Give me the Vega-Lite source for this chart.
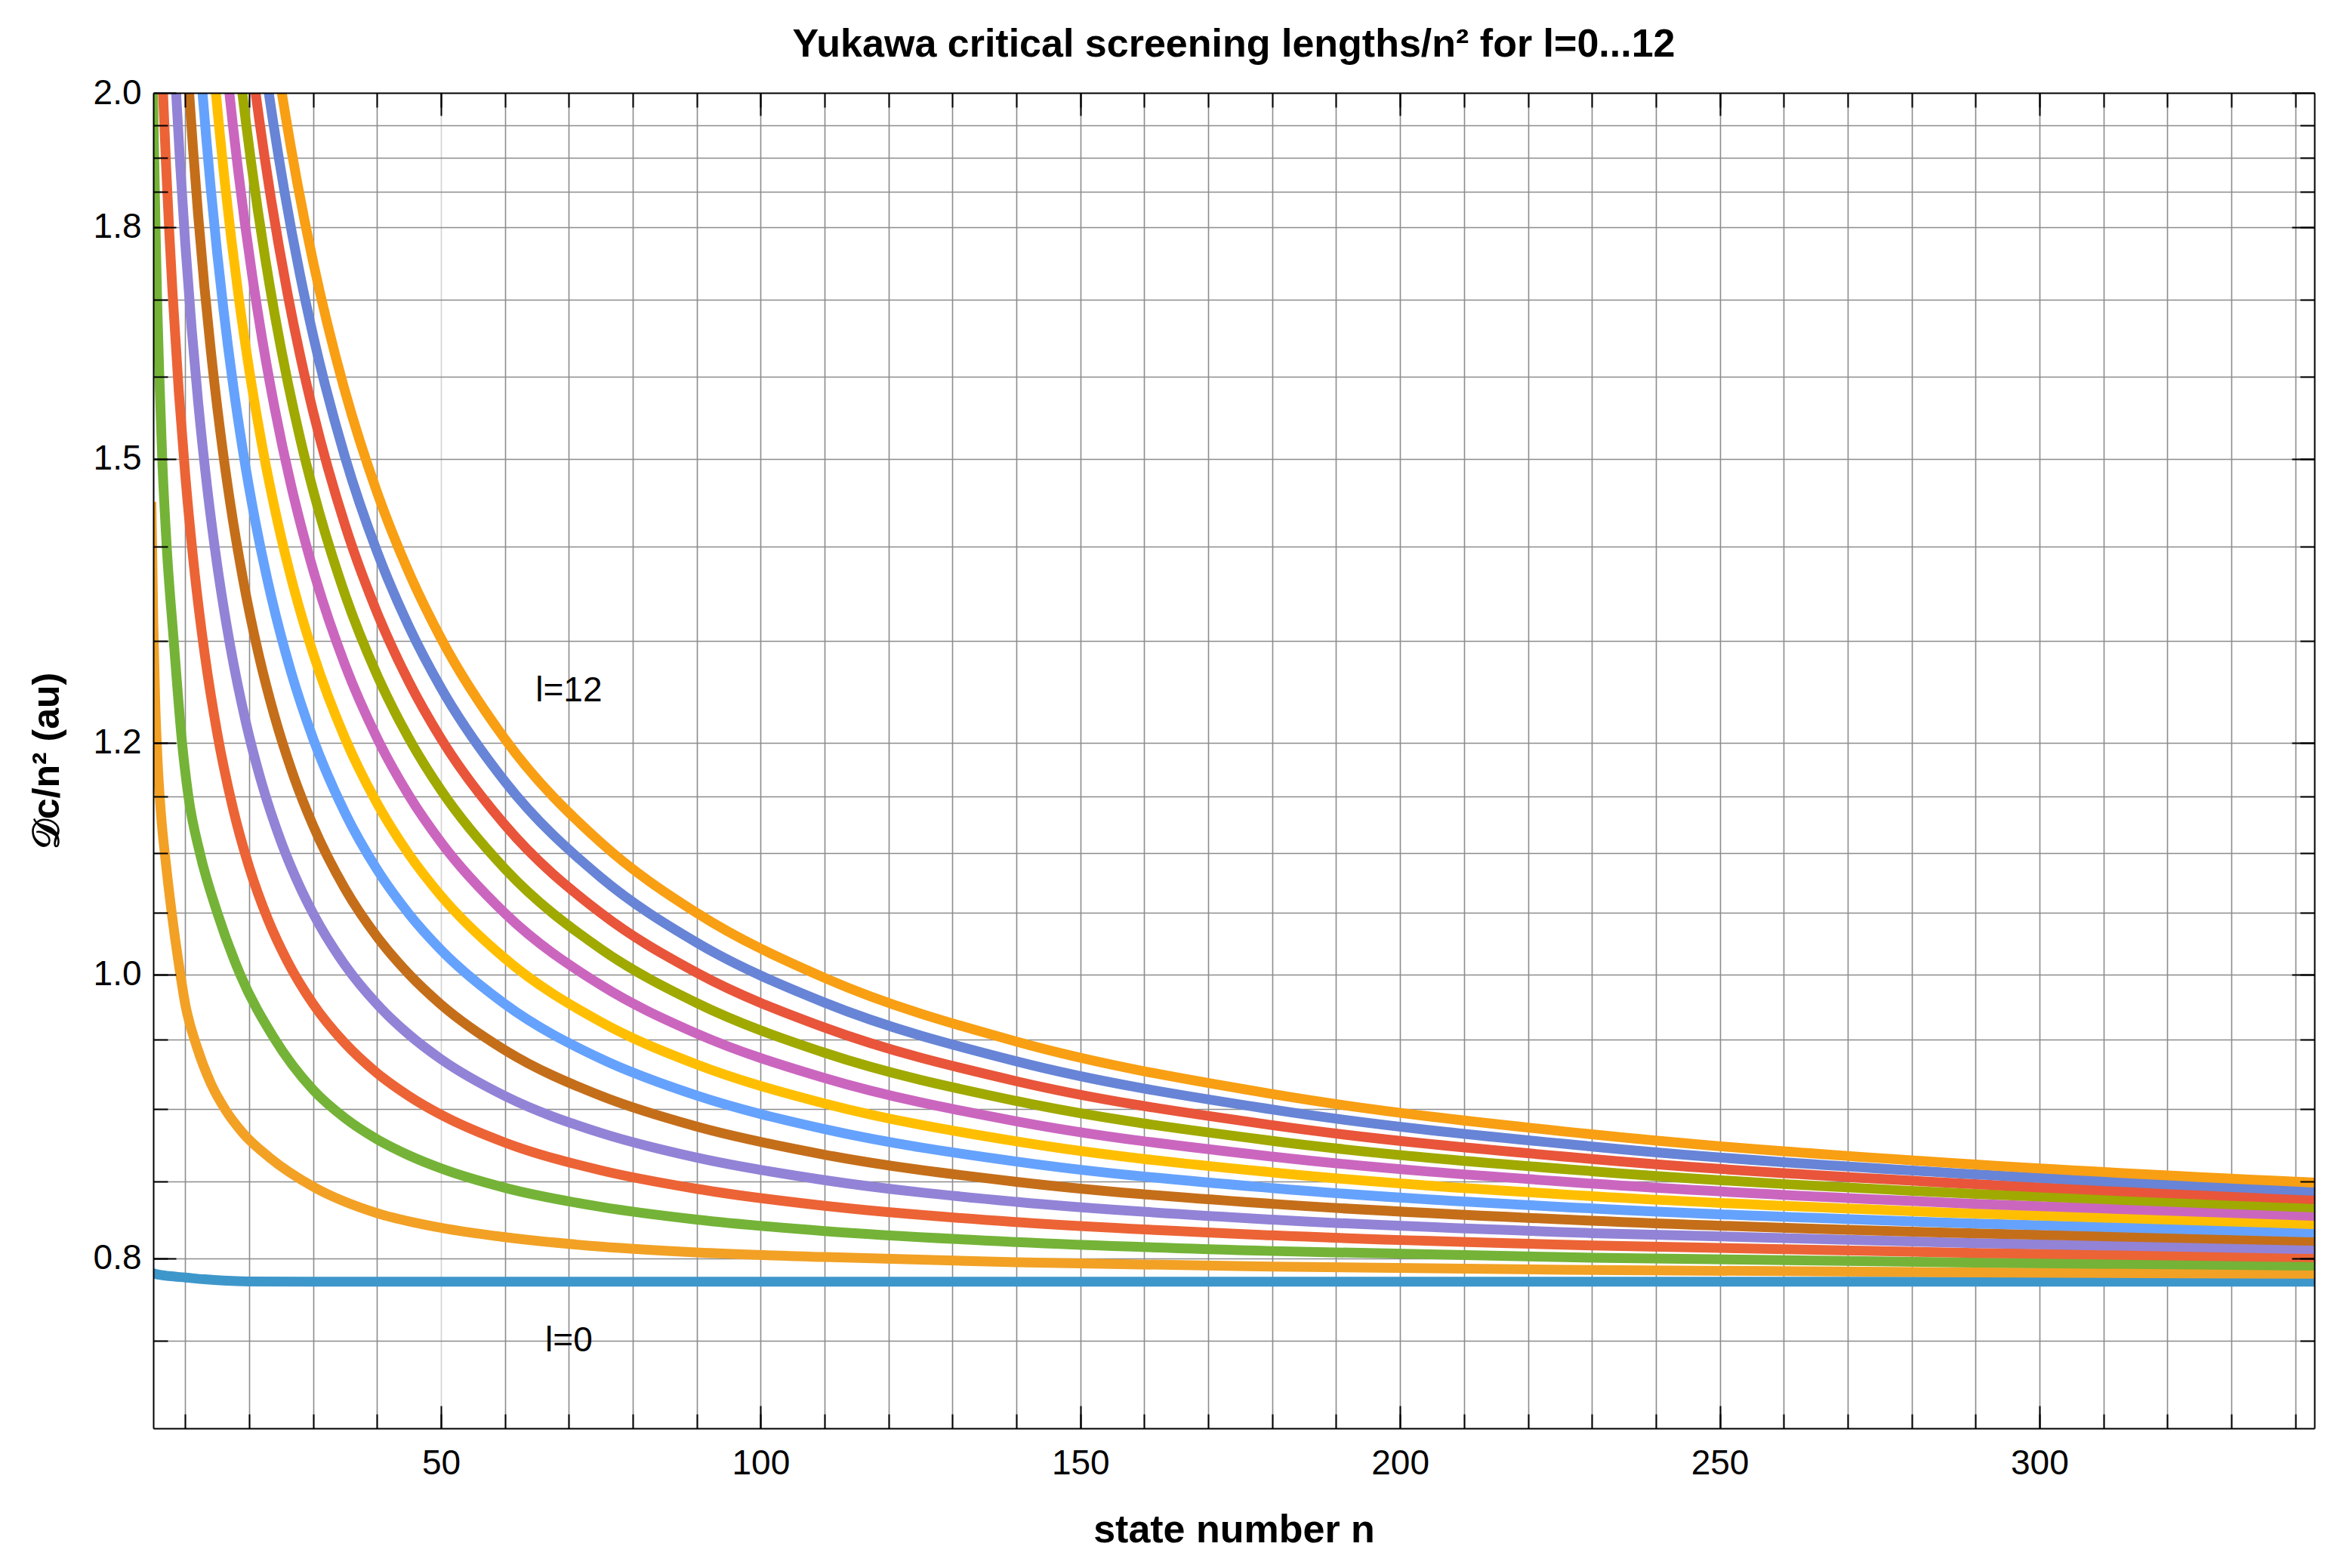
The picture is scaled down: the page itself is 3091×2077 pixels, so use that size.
{
  "$schema": "https://vega.github.io/schema/vega-lite/v6.json",
  "width": 2862,
  "height": 1769,
  "autosize": {"type": "none"},
  "padding": {"left": 203, "top": 123, "right": 26, "bottom": 185},
  "background": "white",
  "config": {"view": {"stroke": null}, "font": "Liberation Sans"},
  "title": {
    "text": "Yukawa critical screening lengths/n² for l=0...12",
    "font": "Liberation Sans",
    "fontSize": 52,
    "fontWeight": "bold",
    "color": "black",
    "anchor": "middle",
    "baseline": "alphabetic",
    "offset": -27
  },
  "datasets": {
    "labels": [
      {"n": 70, "v": 1.25, "label": "l=12"},
      {"n": 70, "v": 0.75, "label": "l=0"}
    ],
    "curves": [
      {"l": 0, "n": 4.7, "v": 0.792}, {"l": 0, "n": 5, "v": 0.7908}, {"l": 0, "n": 6, "v": 0.7898}, {"l": 0, "n": 7.5, "v": 0.789}, {"l": 0, "n": 10, "v": 0.7881}, {"l": 0, "n": 13, "v": 0.787}, {"l": 0, "n": 16, "v": 0.7862}, {"l": 0, "n": 20, "v": 0.7857}, {"l": 0, "n": 30, "v": 0.7855}, {"l": 0, "n": 100, "v": 0.7855}, {"l": 0, "n": 343, "v": 0.7855},

      {"l": 1, "n": 4.7, "v": 1.45}, {"l": 1, "n": 5, "v": 1.32}, {"l": 1, "n": 5.3, "v": 1.24}, {"l": 1, "n": 5.7, "v": 1.18}, {"l": 1, "n": 6.2, "v": 1.135}, {"l": 1, "n": 7, "v": 1.09}, {"l": 1, "n": 8, "v": 1.045}, {"l": 1, "n": 9, "v": 1.008}, {"l": 1, "n": 10, "v": 0.977}, {"l": 1, "n": 11.8, "v": 0.945}, {"l": 1, "n": 14, "v": 0.918}, {"l": 1, "n": 16.3, "v": 0.899}, {"l": 1, "n": 19, "v": 0.883}, {"l": 1, "n": 23.2, "v": 0.866}, {"l": 1, "n": 30, "v": 0.8465}, {"l": 1, "n": 40, "v": 0.829}, {"l": 1, "n": 50, "v": 0.8195}, {"l": 1, "n": 60, "v": 0.8135}, {"l": 1, "n": 75, "v": 0.8075}, {"l": 1, "n": 90, "v": 0.8038}, {"l": 1, "n": 110, "v": 0.8009}, {"l": 1, "n": 140, "v": 0.7976}, {"l": 1, "n": 180, "v": 0.7949}, {"l": 1, "n": 230, "v": 0.7928}, {"l": 1, "n": 290, "v": 0.7913}, {"l": 1, "n": 343, "v": 0.7904},

      {"l": 2, "n": 4.8, "v": 2.1}, {"l": 2, "n": 4.98, "v": 1.99}, {"l": 2, "n": 5.15, "v": 1.9}, {"l": 2, "n": 5.35, "v": 1.8}, {"l": 2, "n": 5.6, "v": 1.7}, {"l": 2, "n": 5.95, "v": 1.6}, {"l": 2, "n": 6.4, "v": 1.5}, {"l": 2, "n": 7.1, "v": 1.4}, {"l": 2, "n": 8.2, "v": 1.3}, {"l": 2, "n": 9.5, "v": 1.2}, {"l": 2, "n": 10.5, "v": 1.15}, {"l": 2, "n": 12.3, "v": 1.1}, {"l": 2, "n": 15, "v": 1.05}, {"l": 2, "n": 18.6, "v": 1.0}, {"l": 2, "n": 23.8, "v": 0.952}, {"l": 2, "n": 30, "v": 0.9134}, {"l": 2, "n": 35, "v": 0.8933}, {"l": 2, "n": 40, "v": 0.8786}, {"l": 2, "n": 45, "v": 0.8675}, {"l": 2, "n": 50, "v": 0.8587}, {"l": 2, "n": 60, "v": 0.8457}, {"l": 2, "n": 75, "v": 0.8331}, {"l": 2, "n": 90, "v": 0.8248}, {"l": 2, "n": 110, "v": 0.8174}, {"l": 2, "n": 140, "v": 0.8104}, {"l": 2, "n": 180, "v": 0.8047}, {"l": 2, "n": 230, "v": 0.8005}, {"l": 2, "n": 290, "v": 0.7974}, {"l": 2, "n": 343, "v": 0.7955},

      {"l": 3, "n": 6.1, "v": 2.1146}, {"l": 3, "n": 6.5, "v": 2.0048}, {"l": 3, "n": 7, "v": 1.8894}, {"l": 3, "n": 7.5, "v": 1.7929}, {"l": 3, "n": 8, "v": 1.7111}, {"l": 3, "n": 9, "v": 1.5804}, {"l": 3, "n": 10, "v": 1.4809}, {"l": 3, "n": 11.5, "v": 1.3697}, {"l": 3, "n": 13, "v": 1.2884}, {"l": 3, "n": 15, "v": 1.209}, {"l": 3, "n": 17.5, "v": 1.1387}, {"l": 3, "n": 20, "v": 1.0881}, {"l": 3, "n": 23, "v": 1.0435}, {"l": 3, "n": 26, "v": 1.0103}, {"l": 3, "n": 30, "v": 0.9772}, {"l": 3, "n": 35, "v": 0.9474}, {"l": 3, "n": 40, "v": 0.9255}, {"l": 3, "n": 45, "v": 0.9089}, {"l": 3, "n": 50, "v": 0.8957}, {"l": 3, "n": 60, "v": 0.8763}, {"l": 3, "n": 75, "v": 0.8574}, {"l": 3, "n": 90, "v": 0.845}, {"l": 3, "n": 110, "v": 0.8338}, {"l": 3, "n": 140, "v": 0.8232}, {"l": 3, "n": 180, "v": 0.8147}, {"l": 3, "n": 230, "v": 0.8082}, {"l": 3, "n": 290, "v": 0.8035}, {"l": 3, "n": 343, "v": 0.8007},

      {"l": 4, "n": 8.2, "v": 2.0745}, {"l": 4, "n": 8.6, "v": 1.9948}, {"l": 4, "n": 9.2, "v": 1.8912}, {"l": 4, "n": 10, "v": 1.7766}, {"l": 4, "n": 11, "v": 1.6617}, {"l": 4, "n": 12, "v": 1.5698}, {"l": 4, "n": 13.5, "v": 1.462}, {"l": 4, "n": 15, "v": 1.3796}, {"l": 4, "n": 17, "v": 1.2959}, {"l": 4, "n": 19.5, "v": 1.2188}, {"l": 4, "n": 22, "v": 1.1616}, {"l": 4, "n": 25, "v": 1.1099}, {"l": 4, "n": 28, "v": 1.0706}, {"l": 4, "n": 30, "v": 1.0492}, {"l": 4, "n": 35, "v": 1.0074}, {"l": 4, "n": 40, "v": 0.977}, {"l": 4, "n": 45, "v": 0.9539}, {"l": 4, "n": 50, "v": 0.9357}, {"l": 4, "n": 60, "v": 0.909}, {"l": 4, "n": 75, "v": 0.883}, {"l": 4, "n": 90, "v": 0.866}, {"l": 4, "n": 110, "v": 0.8508}, {"l": 4, "n": 140, "v": 0.8364}, {"l": 4, "n": 180, "v": 0.8248}, {"l": 4, "n": 230, "v": 0.8161}, {"l": 4, "n": 290, "v": 0.8097}, {"l": 4, "n": 343, "v": 0.8059},

      {"l": 5, "n": 10.2, "v": 2.0653}, {"l": 5, "n": 10.6, "v": 2.0014}, {"l": 5, "n": 11.2, "v": 1.9161}, {"l": 5, "n": 12, "v": 1.8186}, {"l": 5, "n": 13, "v": 1.717}, {"l": 5, "n": 14, "v": 1.633}, {"l": 5, "n": 15.5, "v": 1.531}, {"l": 5, "n": 17, "v": 1.4502}, {"l": 5, "n": 19, "v": 1.3657}, {"l": 5, "n": 21.5, "v": 1.2855}, {"l": 5, "n": 24, "v": 1.2244}, {"l": 5, "n": 27, "v": 1.168}, {"l": 5, "n": 30, "v": 1.1242}, {"l": 5, "n": 35, "v": 1.0697}, {"l": 5, "n": 40, "v": 1.0302}, {"l": 5, "n": 45, "v": 1.0003}, {"l": 5, "n": 50, "v": 0.9768}, {"l": 5, "n": 60, "v": 0.9424}, {"l": 5, "n": 75, "v": 0.9091}, {"l": 5, "n": 90, "v": 0.8874}, {"l": 5, "n": 110, "v": 0.868}, {"l": 5, "n": 140, "v": 0.8497}, {"l": 5, "n": 180, "v": 0.8351}, {"l": 5, "n": 230, "v": 0.8241}, {"l": 5, "n": 290, "v": 0.8159}, {"l": 5, "n": 343, "v": 0.8112},

      {"l": 6, "n": 12.3, "v": 2.0527}, {"l": 6, "n": 12.7, "v": 2.0}, {"l": 6, "n": 13.3, "v": 1.9283}, {"l": 6, "n": 14, "v": 1.8542}, {"l": 6, "n": 15, "v": 1.7628}, {"l": 6, "n": 16, "v": 1.6853}, {"l": 6, "n": 17.5, "v": 1.5888}, {"l": 6, "n": 19, "v": 1.5103}, {"l": 6, "n": 21, "v": 1.4262}, {"l": 6, "n": 23.5, "v": 1.3444}, {"l": 6, "n": 26.5, "v": 1.2696}, {"l": 6, "n": 30, "v": 1.2038}, {"l": 6, "n": 35, "v": 1.1355}, {"l": 6, "n": 40, "v": 1.0861}, {"l": 6, "n": 45, "v": 1.0488}, {"l": 6, "n": 50, "v": 1.0196}, {"l": 6, "n": 60, "v": 0.9771}, {"l": 6, "n": 75, "v": 0.936}, {"l": 6, "n": 90, "v": 0.9093}, {"l": 6, "n": 110, "v": 0.8856}, {"l": 6, "n": 140, "v": 0.8633}, {"l": 6, "n": 180, "v": 0.8455}, {"l": 6, "n": 230, "v": 0.8321}, {"l": 6, "n": 290, "v": 0.8223}, {"l": 6, "n": 343, "v": 0.8165},

      {"l": 7, "n": 14.4, "v": 2.0437}, {"l": 7, "n": 14.8, "v": 1.999}, {"l": 7, "n": 15.4, "v": 1.9372}, {"l": 7, "n": 16.2, "v": 1.8635}, {"l": 7, "n": 17.2, "v": 1.7831}, {"l": 7, "n": 18.4, "v": 1.7005}, {"l": 7, "n": 20, "v": 1.6089}, {"l": 7, "n": 22, "v": 1.5165}, {"l": 7, "n": 24.5, "v": 1.4258}, {"l": 7, "n": 27, "v": 1.3546}, {"l": 7, "n": 30, "v": 1.2872}, {"l": 7, "n": 35, "v": 1.204}, {"l": 7, "n": 40, "v": 1.1441}, {"l": 7, "n": 45, "v": 1.099}, {"l": 7, "n": 50, "v": 1.0639}, {"l": 7, "n": 60, "v": 1.0128}, {"l": 7, "n": 75, "v": 0.9635}, {"l": 7, "n": 90, "v": 0.9318}, {"l": 7, "n": 110, "v": 0.9036}, {"l": 7, "n": 140, "v": 0.8771}, {"l": 7, "n": 180, "v": 0.856}, {"l": 7, "n": 230, "v": 0.8402}, {"l": 7, "n": 290, "v": 0.8287}, {"l": 7, "n": 343, "v": 0.8219},

      {"l": 8, "n": 16.5, "v": 2.0388}, {"l": 8, "n": 16.9, "v": 1.9997}, {"l": 8, "n": 17.5, "v": 1.9453}, {"l": 8, "n": 18.3, "v": 1.8796}, {"l": 8, "n": 19.3, "v": 1.8067}, {"l": 8, "n": 20.5, "v": 1.7307}, {"l": 8, "n": 22, "v": 1.6496}, {"l": 8, "n": 24, "v": 1.5602}, {"l": 8, "n": 26.5, "v": 1.4707}, {"l": 8, "n": 28, "v": 1.4261}, {"l": 8, "n": 30, "v": 1.3746}, {"l": 8, "n": 35, "v": 1.2755}, {"l": 8, "n": 40, "v": 1.2044}, {"l": 8, "n": 45, "v": 1.151}, {"l": 8, "n": 50, "v": 1.1096}, {"l": 8, "n": 60, "v": 1.0494}, {"l": 8, "n": 75, "v": 0.9918}, {"l": 8, "n": 90, "v": 0.9547}, {"l": 8, "n": 110, "v": 0.9219}, {"l": 8, "n": 140, "v": 0.8911}, {"l": 8, "n": 180, "v": 0.8667}, {"l": 8, "n": 230, "v": 0.8485}, {"l": 8, "n": 290, "v": 0.8351}, {"l": 8, "n": 343, "v": 0.8273},

      {"l": 9, "n": 18.5, "v": 2.0366}, {"l": 9, "n": 18.9, "v": 2.0019}, {"l": 9, "n": 19.5, "v": 1.9531}, {"l": 9, "n": 20.3, "v": 1.8936}, {"l": 9, "n": 21.3, "v": 1.8269}, {"l": 9, "n": 22.5, "v": 1.7562}, {"l": 9, "n": 24, "v": 1.6798}, {"l": 9, "n": 26, "v": 1.5943}, {"l": 9, "n": 28, "v": 1.5232}, {"l": 9, "n": 30, "v": 1.4633}, {"l": 9, "n": 35, "v": 1.348}, {"l": 9, "n": 40, "v": 1.2656}, {"l": 9, "n": 45, "v": 1.2038}, {"l": 9, "n": 50, "v": 1.156}, {"l": 9, "n": 60, "v": 1.0867}, {"l": 9, "n": 75, "v": 1.0204}, {"l": 9, "n": 90, "v": 0.9779}, {"l": 9, "n": 110, "v": 0.9404}, {"l": 9, "n": 140, "v": 0.9054}, {"l": 9, "n": 180, "v": 0.8775}, {"l": 9, "n": 230, "v": 0.8568}, {"l": 9, "n": 290, "v": 0.8416}, {"l": 9, "n": 343, "v": 0.8327},

      {"l": 10, "n": 20.6, "v": 2.031}, {"l": 10, "n": 21, "v": 2.0}, {"l": 10, "n": 21.6, "v": 1.9561}, {"l": 10, "n": 22.4, "v": 1.902}, {"l": 10, "n": 23.4, "v": 1.8407}, {"l": 10, "n": 24.6, "v": 1.7752}, {"l": 10, "n": 26, "v": 1.7079}, {"l": 10, "n": 28, "v": 1.6257}, {"l": 10, "n": 30, "v": 1.5565}, {"l": 10, "n": 35, "v": 1.4237}, {"l": 10, "n": 40, "v": 1.3291}, {"l": 10, "n": 45, "v": 1.2585}, {"l": 10, "n": 50, "v": 1.2038}, {"l": 10, "n": 60, "v": 1.1248}, {"l": 10, "n": 75, "v": 1.0496}, {"l": 10, "n": 90, "v": 1.0015}, {"l": 10, "n": 110, "v": 0.9592}, {"l": 10, "n": 140, "v": 0.9196}, {"l": 10, "n": 180, "v": 0.8884}, {"l": 10, "n": 230, "v": 0.8651}, {"l": 10, "n": 290, "v": 0.8481}, {"l": 10, "n": 343, "v": 0.8382},

      {"l": 11, "n": 22.6, "v": 2.0325}, {"l": 11, "n": 23.1, "v": 1.9973}, {"l": 11, "n": 23.7, "v": 1.9574}, {"l": 11, "n": 24.5, "v": 1.908}, {"l": 11, "n": 25.5, "v": 1.8515}, {"l": 11, "n": 26.7, "v": 1.7904}, {"l": 11, "n": 28, "v": 1.7315}, {"l": 11, "n": 30, "v": 1.6526}, {"l": 11, "n": 35, "v": 1.5017}, {"l": 11, "n": 40, "v": 1.3944}, {"l": 11, "n": 45, "v": 1.3145}, {"l": 11, "n": 50, "v": 1.2528}, {"l": 11, "n": 60, "v": 1.1639}, {"l": 11, "n": 75, "v": 1.0794}, {"l": 11, "n": 90, "v": 1.0255}, {"l": 11, "n": 110, "v": 0.9782}, {"l": 11, "n": 140, "v": 0.9341}, {"l": 11, "n": 180, "v": 0.8994}, {"l": 11, "n": 230, "v": 0.8736}, {"l": 11, "n": 290, "v": 0.8547}, {"l": 11, "n": 343, "v": 0.8437},

      {"l": 12, "n": 24.7, "v": 2.0259}, {"l": 12, "n": 25.1, "v": 2.0001}, {"l": 12, "n": 25.7, "v": 1.9633}, {"l": 12, "n": 26.5, "v": 1.9174}, {"l": 12, "n": 27.5, "v": 1.8646}, {"l": 12, "n": 28.7, "v": 1.8071}, {"l": 12, "n": 30, "v": 1.7511}, {"l": 12, "n": 35, "v": 1.5813}, {"l": 12, "n": 40, "v": 1.461}, {"l": 12, "n": 45, "v": 1.3715}, {"l": 12, "n": 50, "v": 1.3025}, {"l": 12, "n": 60, "v": 1.2034}, {"l": 12, "n": 75, "v": 1.1094}, {"l": 12, "n": 90, "v": 1.0497}, {"l": 12, "n": 110, "v": 0.9974}, {"l": 12, "n": 140, "v": 0.9487}, {"l": 12, "n": 180, "v": 0.9104}, {"l": 12, "n": 230, "v": 0.882}, {"l": 12, "n": 290, "v": 0.8613}, {"l": 12, "n": 343, "v": 0.8492}
    ]
  },
  "layer": [
    {
      "data": {"name": "labels"},
      "mark": {"type": "point", "opacity": 0},
      "encoding": {
        "x": {
          "field": "n", "type": "quantitative",
          "scale": {"domain": [5, 343], "nice": false, "zero": false},
          "axis": {
            "orient": "bottom",
            "values": [10, 20, 30, 40, 50, 60, 70, 80, 90, 100, 110, 120, 130, 140, 150, 160, 170, 180, 190, 200, 210, 220, 230, 240, 250, 260, 270, 280, 290, 300, 310, 320, 330, 340],
            "labels": false, "domain": false, "ticks": false, "title": null,
            "grid": true, "gridWidth": 1.6,
            "gridColor": {"condition": {"test": "datum.value === 50", "value": "#d2d2d2"}, "value": "#8c8c8c"}
          }
        },
        "y": {
          "field": "v", "type": "quantitative",
          "scale": {"type": "log", "domain": [0.7, 2.0], "nice": false},
          "axis": {
            "orient": "left",
            "values": [0.75, 0.8, 0.85, 0.9, 0.95, 1.0, 1.05, 1.1, 1.15, 1.2, 1.3, 1.4, 1.5, 1.6, 1.7, 1.8, 1.85, 1.9, 1.95],
            "labels": false, "domain": false, "ticks": false, "title": null,
            "grid": true, "gridWidth": 1.6, "gridColor": "#8c8c8c"
          }
        }
      }
    },
    {
      "data": {"name": "curves"},
      "mark": {"type": "line", "strokeWidth": 13, "interpolate": "monotone", "clip": true},
      "encoding": {
        "x": {
          "field": "n", "type": "quantitative",
          "scale": {"domain": [5, 343], "nice": false, "zero": false},
          "axis": {
            "orient": "bottom", "values": [50, 100, 150, 200, 250, 300], "format": "d",
            "labelFont": "Liberation Sans", "labelFontSize": 46, "labelColor": "black", "labelPadding": 24,
            "labelOverlap": false, "labelFlush": false,
            "ticks": false, "grid": false,
            "domain": true, "domainColor": "black", "domainWidth": 2,
            "title": "state number n", "titleFont": "Liberation Sans", "titleFontSize": 52,
            "titleFontWeight": "bold", "titleColor": "black", "titlePadding": 40, "zindex": 1
          }
        },
        "y": {
          "field": "v", "type": "quantitative",
          "scale": {"type": "log", "domain": [0.7, 2.0], "nice": false},
          "axis": {
            "orient": "left", "values": [0.8, 1.0, 1.2, 1.5, 1.8, 2.0], "format": ".1f",
            "labelFont": "Liberation Sans", "labelFontSize": 46, "labelColor": "black", "labelPadding": 16,
            "labelOverlap": false, "labelFlush": false,
            "ticks": false, "grid": false,
            "domain": true, "domainColor": "black", "domainWidth": 2,
            "title": "𝒟c/n² (au)", "titleFont": "Liberation Sans", "titleFontSize": 50,
            "titleFontWeight": "bold", "titleColor": "black", "titlePadding": 36, "zindex": 1
          }
        },
        "color": {
          "field": "l", "type": "ordinal", "legend": null,
          "scale": {
            "domain": [0, 1, 2, 3, 4, 5, 6, 7, 8, 9, 10, 11, 12],
            "range": ["#3e97cb", "#f2a125", "#74b337", "#ec6336", "#9283d7", "#c46e1a", "#65a2fd", "#ffbf00", "#cb66bf", "#a0a900", "#e8553a", "#6784d6", "#f89f13"]
          }
        }
      }
    },
    {
      "data": {"name": "labels"},
      "mark": {"type": "text", "font": "Liberation Sans", "fontSize": 46, "color": "black", "align": "center", "baseline": "middle"},
      "encoding": {
        "text": {"field": "label"},
        "x": {
          "field": "n", "type": "quantitative",
          "scale": {"domain": [5, 343], "nice": false, "zero": false},
          "axis": {
            "orient": "bottom",
            "values": [10, 20, 30, 40, 50, 60, 70, 80, 90, 100, 110, 120, 130, 140, 150, 160, 170, 180, 190, 200, 210, 220, 230, 240, 250, 260, 270, 280, 290, 300, 310, 320, 330, 340],
            "labels": false, "domain": false, "grid": false, "title": null,
            "tickSize": -19, "tickColor": "black", "tickWidth": 2, "zindex": 1
          }
        },
        "y": {
          "field": "v", "type": "quantitative",
          "scale": {"type": "log", "domain": [0.7, 2.0], "nice": false},
          "axis": {
            "orient": "left",
            "values": [0.75, 0.8, 0.85, 0.9, 0.95, 1.0, 1.05, 1.1, 1.15, 1.2, 1.3, 1.4, 1.5, 1.6, 1.7, 1.8, 1.85, 1.9, 1.95],
            "labels": false, "domain": false, "grid": false, "title": null,
            "tickSize": -19, "tickColor": "black", "tickWidth": 2, "zindex": 1
          }
        }
      }
    },
    {
      "data": {"name": "labels"},
      "mark": {"type": "point", "opacity": 0},
      "encoding": {
        "x": {
          "field": "n", "type": "quantitative",
          "scale": {"domain": [5, 343], "nice": false, "zero": false},
          "axis": {
            "orient": "bottom", "values": [50, 100, 150, 200, 250, 300],
            "labels": false, "domain": false, "grid": false, "title": null,
            "tickSize": -30, "tickColor": "black", "tickWidth": 2, "zindex": 1
          }
        },
        "y": {
          "field": "v", "type": "quantitative",
          "scale": {"type": "log", "domain": [0.7, 2.0], "nice": false},
          "axis": {
            "orient": "left", "values": [0.8, 1.0, 1.2, 1.5, 1.8, 2.0],
            "labels": false, "domain": false, "grid": false, "title": null,
            "tickSize": -30, "tickColor": "black", "tickWidth": 2, "zindex": 1
          }
        }
      }
    },
    {
      "data": {"name": "labels"},
      "mark": {"type": "point", "opacity": 0},
      "encoding": {
        "x": {
          "field": "n", "type": "quantitative",
          "scale": {"domain": [5, 343], "nice": false, "zero": false},
          "axis": {
            "orient": "top",
            "values": [10, 20, 30, 40, 50, 60, 70, 80, 90, 100, 110, 120, 130, 140, 150, 160, 170, 180, 190, 200, 210, 220, 230, 240, 250, 260, 270, 280, 290, 300, 310, 320, 330, 340],
            "labels": false, "grid": false, "title": null,
            "domain": true, "domainColor": "black", "domainWidth": 2,
            "tickSize": -19, "tickColor": "black", "tickWidth": 2, "zindex": 1
          }
        },
        "y": {
          "field": "v", "type": "quantitative",
          "scale": {"type": "log", "domain": [0.7, 2.0], "nice": false},
          "axis": {
            "orient": "right",
            "values": [0.75, 0.8, 0.85, 0.9, 0.95, 1.0, 1.05, 1.1, 1.15, 1.2, 1.3, 1.4, 1.5, 1.6, 1.7, 1.8, 1.85, 1.9, 1.95],
            "labels": false, "grid": false, "title": null,
            "domain": true, "domainColor": "black", "domainWidth": 2,
            "tickSize": -19, "tickColor": "black", "tickWidth": 2, "zindex": 1
          }
        }
      }
    },
    {
      "data": {"name": "labels"},
      "mark": {"type": "point", "opacity": 0},
      "encoding": {
        "x": {
          "field": "n", "type": "quantitative",
          "scale": {"domain": [5, 343], "nice": false, "zero": false},
          "axis": {
            "orient": "top", "values": [50, 100, 150, 200, 250, 300],
            "labels": false, "domain": false, "grid": false, "title": null,
            "tickSize": -30, "tickColor": "black", "tickWidth": 2, "zindex": 1
          }
        },
        "y": {
          "field": "v", "type": "quantitative",
          "scale": {"type": "log", "domain": [0.7, 2.0], "nice": false},
          "axis": {
            "orient": "right", "values": [0.8, 1.0, 1.2, 1.5, 1.8, 2.0],
            "labels": false, "domain": false, "grid": false, "title": null,
            "tickSize": -30, "tickColor": "black", "tickWidth": 2, "zindex": 1
          }
        }
      }
    }
  ],
  "resolve": {"axis": {"x": "independent", "y": "independent"}}
}
